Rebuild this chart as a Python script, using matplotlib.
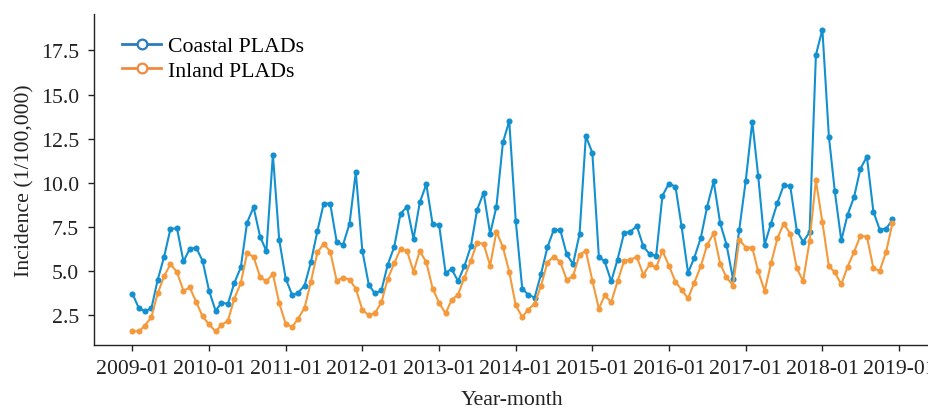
import matplotlib
matplotlib.use("Agg")
import matplotlib.pyplot as plt
import matplotlib.dates as mdates
from matplotlib.lines import Line2D
import pandas as pd

months = pd.date_range("2009-01-01", periods=120, freq="MS")

coastal = [
    3.72, 2.89, 2.74, 2.89, 4.50, 5.83, 7.40, 7.43, 5.55, 6.27, 6.32, 5.59,
    3.89, 2.76, 3.21, 3.16, 4.33, 5.21, 7.75, 8.62, 6.96, 6.14, 11.60, 6.79,
    4.58, 3.65, 3.78, 4.19, 5.51, 7.27, 8.83, 8.83, 6.66, 6.49, 7.68, 10.60,
    6.17, 4.23, 3.74, 3.91, 5.36, 6.38, 8.26, 8.64, 6.83, 8.90, 9.92, 7.66,
    7.62, 4.89, 5.14, 4.44, 5.27, 6.40, 8.47, 9.45, 7.11, 8.66, 12.29, 13.50,
    7.86, 4.01, 3.67, 3.51, 4.82, 6.36, 7.34, 7.34, 5.95, 5.40, 7.11, 12.65,
    11.70, 5.81, 5.55, 4.42, 5.66, 7.15, 7.24, 7.55, 6.40, 5.97, 5.87, 9.28,
    9.96, 9.79, 7.55, 4.91, 5.77, 6.90, 8.66, 10.09, 7.72, 6.51, 4.57, 7.36,
    10.13, 13.47, 10.41, 6.51, 7.70, 8.88, 9.88, 9.81, 7.30, 6.66, 7.21, 17.24,
    18.68, 12.61, 9.54, 6.74, 8.20, 9.20, 10.80, 11.48, 8.37, 7.36, 7.40, 7.94,
]

inland = [
    1.61, 1.59, 1.92, 2.39, 3.74, 4.72, 5.40, 4.95, 3.89, 4.08, 3.25, 2.44,
    1.99, 1.59, 1.95, 2.20, 3.44, 4.33, 6.02, 5.81, 4.68, 4.42, 4.84, 3.20,
    2.02, 1.84, 2.31, 2.93, 4.40, 6.06, 6.55, 6.11, 4.46, 4.64, 4.53, 4.01,
    2.82, 2.50, 2.63, 3.23, 4.57, 5.44, 6.27, 6.14, 4.98, 6.14, 5.51, 4.02,
    3.21, 2.61, 3.37, 3.67, 4.63, 5.59, 6.62, 6.55, 5.31, 7.24, 6.36, 4.97,
    3.06, 2.41, 2.82, 3.16, 4.16, 5.49, 5.83, 5.53, 4.51, 4.72, 5.94, 6.15,
    4.47, 2.88, 3.63, 3.25, 4.42, 5.57, 5.66, 5.80, 4.80, 5.38, 5.21, 6.15,
    5.31, 4.40, 3.95, 3.46, 4.36, 5.29, 6.49, 7.15, 5.42, 4.65, 4.19, 6.79,
    6.34, 6.34, 5.00, 3.88, 5.44, 6.87, 7.70, 7.11, 5.17, 4.44, 6.70, 10.15,
    7.77, 5.27, 4.95, 4.25, 5.25, 6.10, 7.00, 6.96, 5.17, 5.02, 6.11, 7.73,
]

labels = ["Coastal PLADs", "Inland PLADs"]

blue = "#1390d0"
orange = "#f49a3c"
blue_leg = "#2a7cbf"
orange_leg = "#f08a3e"

FS = 15.7
plt.rcParams["font.family"] = ["Liberation Serif", "DejaVu Serif"]
plt.rcParams["font.size"] = FS

fig = plt.figure(figsize=(9.29, 4.10), dpi=100)
ax = fig.add_axes([0.1017, 0.156, 0.8999, 0.807])

ax.plot(months, coastal, color=blue, lw=1.5, marker="o", ms=4.4,
        markeredgewidth=0)
ax.plot(months, inland, color=orange, lw=1.5, marker="o", ms=4.4,
        markeredgewidth=0)

ax.xaxis.set_major_locator(mdates.YearLocator())
ax.xaxis.set_major_formatter(mdates.DateFormatter("%Y-%m"))
ax.set_xlim(pd.Timestamp("2008-07-04"), pd.Timestamp("2019-05-31"))
ax.set_ylim(0.82, 19.55)
ax.set_yticks([2.5, 5.0, 7.5, 10.0, 12.5, 15.0, 17.5])

for s in ["top", "right"]:
    ax.spines[s].set_visible(False)
for s in ["left", "bottom"]:
    ax.spines[s].set_linewidth(1.0)
    ax.spines[s].set_color("#222222")

ax.tick_params(axis="x", direction="out", length=4, width=1, pad=6,
               labelsize=FS, colors="#222222")
ax.tick_params(axis="y", direction="out", length=4, width=1, pad=7,
               labelsize=FS, colors="#222222")

ax.set_xlabel("Year-month", fontsize=FS, color="#222222", labelpad=9)
ax.set_ylabel("Incidence (1/100,000)", fontsize=FS, color="#222222",
              labelpad=4.5)

handles = [
    Line2D([], [], color=blue_leg, lw=2, marker="o", ms=7,
           markerfacecolor="white", markeredgewidth=1.6),
    Line2D([], [], color=orange_leg, lw=2, marker="o", ms=7,
           markerfacecolor="white", markeredgewidth=1.6),
]
ax.legend(handles, labels, loc="upper left", frameon=False, fontsize=FS,
          bbox_to_anchor=(0.0225, 0.96), handlelength=1.8, handletextpad=0.3,
          labelspacing=0.2, borderaxespad=0.0)

fig.savefig("out.png", dpi=100)
